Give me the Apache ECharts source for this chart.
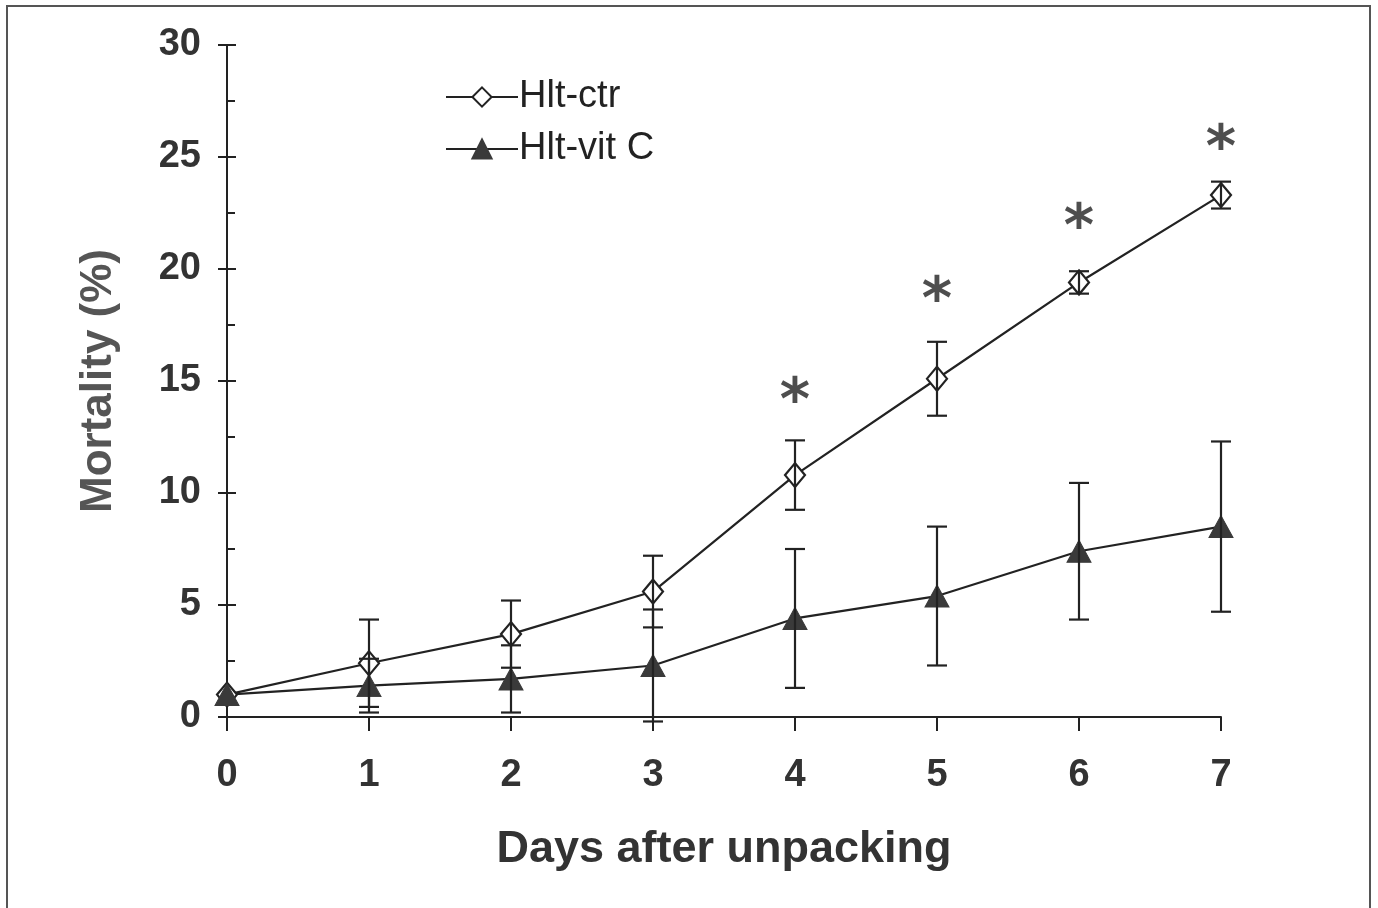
<!DOCTYPE html>
<html><head><meta charset="utf-8">
<script src="https://cdn.jsdelivr.net/npm/echarts@6/dist/echarts.min.js"></script>
<style>html,body{margin:0;padding:0;background:#fff}#c{width:1378px;height:908px}</style>
</head><body><div id="c"></div>
<script>
const days = [0, 1, 2, 3, 4, 5, 6, 7];
const ctrMean = [1.0, 2.4, 3.7, 5.6, 10.8, 15.1, 19.4, 23.3];
const ctrErr  = [0, 1.95, 1.5, 1.6, 1.55, 1.65, 0.5, 0.6];
const vitMean = [1.0, 1.4, 1.7, 2.3, 4.4, 5.4, 7.4, 8.5];
const vitErr  = [0, 1.2, 1.5, 2.5, 3.1, 3.1, 3.05, 3.8];
const starDays = [4, 5, 6, 7];
const starY = [14.5, 19.0, 22.3, 25.8];
const seriesNames = ['Hlt-ctr', 'Hlt-vit C'];

const FONT = "'Liberation Sans', Arial, sans-serif";
const ink = '#222';

function pairs(xs, ys) { return xs.map((x, i) => [x, ys[i]]); }
function errData(mean, err) {
  const out = [];
  days.forEach((d, i) => { if (err[i] > 0) out.push([d, mean[i] - err[i], mean[i] + err[i]]); });
  return out;
}
function errItem(params, api) {
  const x = api.value(0), lo = api.value(1), hi = api.value(2);
  const p1 = api.coord([x, lo]), p2 = api.coord([x, hi]);
  const w = 10;
  const st = { stroke: ink, lineWidth: 2.2 };
  return { type: 'group', children: [
    { type: 'line', shape: { x1: p1[0], y1: p1[1], x2: p2[0], y2: p2[1] }, style: st },
    { type: 'line', shape: { x1: p1[0] - w, y1: p1[1], x2: p1[0] + w, y2: p1[1] }, style: st },
    { type: 'line', shape: { x1: p2[0] - w, y1: p2[1], x2: p2[0] + w, y2: p2[1] }, style: st }
  ]};
}

const chart = echarts.init(document.getElementById('c'));
chart.setOption({
  animation: false,
  backgroundColor: '#fff',
  textStyle: { fontFamily: FONT },
  graphic: [{ type: 'rect', shape: { x: 7, y: 6, width: 1363, height: 905 }, style: { fill: 'none', stroke: '#555', lineWidth: 2 }, silent: true }],
  grid: { left: 227, top: 45, right: 157, bottom: 191 },
  legend: {
    orient: 'vertical', left: 440, top: 73,
    itemWidth: 72, itemHeight: 24, itemGap: 14,
    data: seriesNames,
    textStyle: { fontSize: 38, color: ink, fontFamily: FONT, padding: [0, 0, 0, -4] }
  },
  xAxis: {
    type: 'value', min: 0, max: 7, interval: 1,
    name: 'Days after unpacking', nameLocation: 'middle', nameGap: 110,
    nameTextStyle: { fontSize: 45, fontWeight: 'bold', color: '#333', fontFamily: FONT },
    axisLine: { onZero: false, lineStyle: { color: ink, width: 2 } },
    axisTick: { show: true, length: 14, lineStyle: { color: ink, width: 2 } },
    axisLabel: { fontSize: 38, fontWeight: 'bold', color: '#333', margin: 40, fontFamily: FONT },
    splitLine: { show: false }
  },
  yAxis: [{
    type: 'value', min: 0, max: 30, interval: 5,
    name: 'Mortality (%)', nameLocation: 'middle', nameGap: 106, nameRotate: 90,
    nameTextStyle: { fontSize: 44, fontWeight: 'bold', color: '#555', fontFamily: FONT },
    axisLine: { lineStyle: { color: ink, width: 2 } },
    axisTick: { show: true, length: 9, lineStyle: { color: ink, width: 2 } },
    axisLabel: { fontSize: 38, fontWeight: 'bold', color: '#333', margin: 26, fontFamily: FONT },
    splitLine: { show: false }
  }, {
    type: 'value', min: 0, max: 30, interval: 5, position: 'left',
    axisLine: { show: false },
    axisTick: { show: true, inside: true, length: 9, lineStyle: { color: ink, width: 2 } },
    minorTick: { show: true, splitNumber: 2, length: 8, lineStyle: { color: ink, width: 2 } },
    axisLabel: { show: false },
    splitLine: { show: false }
  }],
  series: [
    {
      name: seriesNames[0], type: 'line', data: pairs(days, ctrMean), z: 3,
      symbol: 'diamond', symbolSize: [20, 24],
      lineStyle: { color: ink, width: 2.2 },
      itemStyle: { color: '#fff', borderColor: ink, borderWidth: 2.2 }
    },
    {
      name: seriesNames[1], type: 'line', data: pairs(days, vitMean), z: 3,
      symbol: 'triangle', symbolSize: [24, 22],
      lineStyle: { color: ink, width: 2.2 },
      itemStyle: { color: '#3a3a3a', borderColor: '#3a3a3a', borderWidth: 1 }
    },
    { type: 'custom', renderItem: errItem, data: errData(ctrMean, ctrErr), encode: { x: 0, y: [1, 2] }, z: 4, silent: true },
    { type: 'custom', renderItem: errItem, data: errData(vitMean, vitErr), encode: { x: 0, y: [1, 2] }, z: 4, silent: true },
    {
      type: 'scatter', data: pairs(starDays, starY), symbolSize: 2, itemStyle: { color: 'rgba(0,0,0,0)' }, silent: true, z: 5,
      label: { show: true, position: 'inside', formatter: '*', fontSize: 58, fontWeight: 'bold', color: '#222', offset: [0, 12], fontFamily: "'DejaVu Sans', sans-serif" }
    }
  ]
});
</script></body></html>
